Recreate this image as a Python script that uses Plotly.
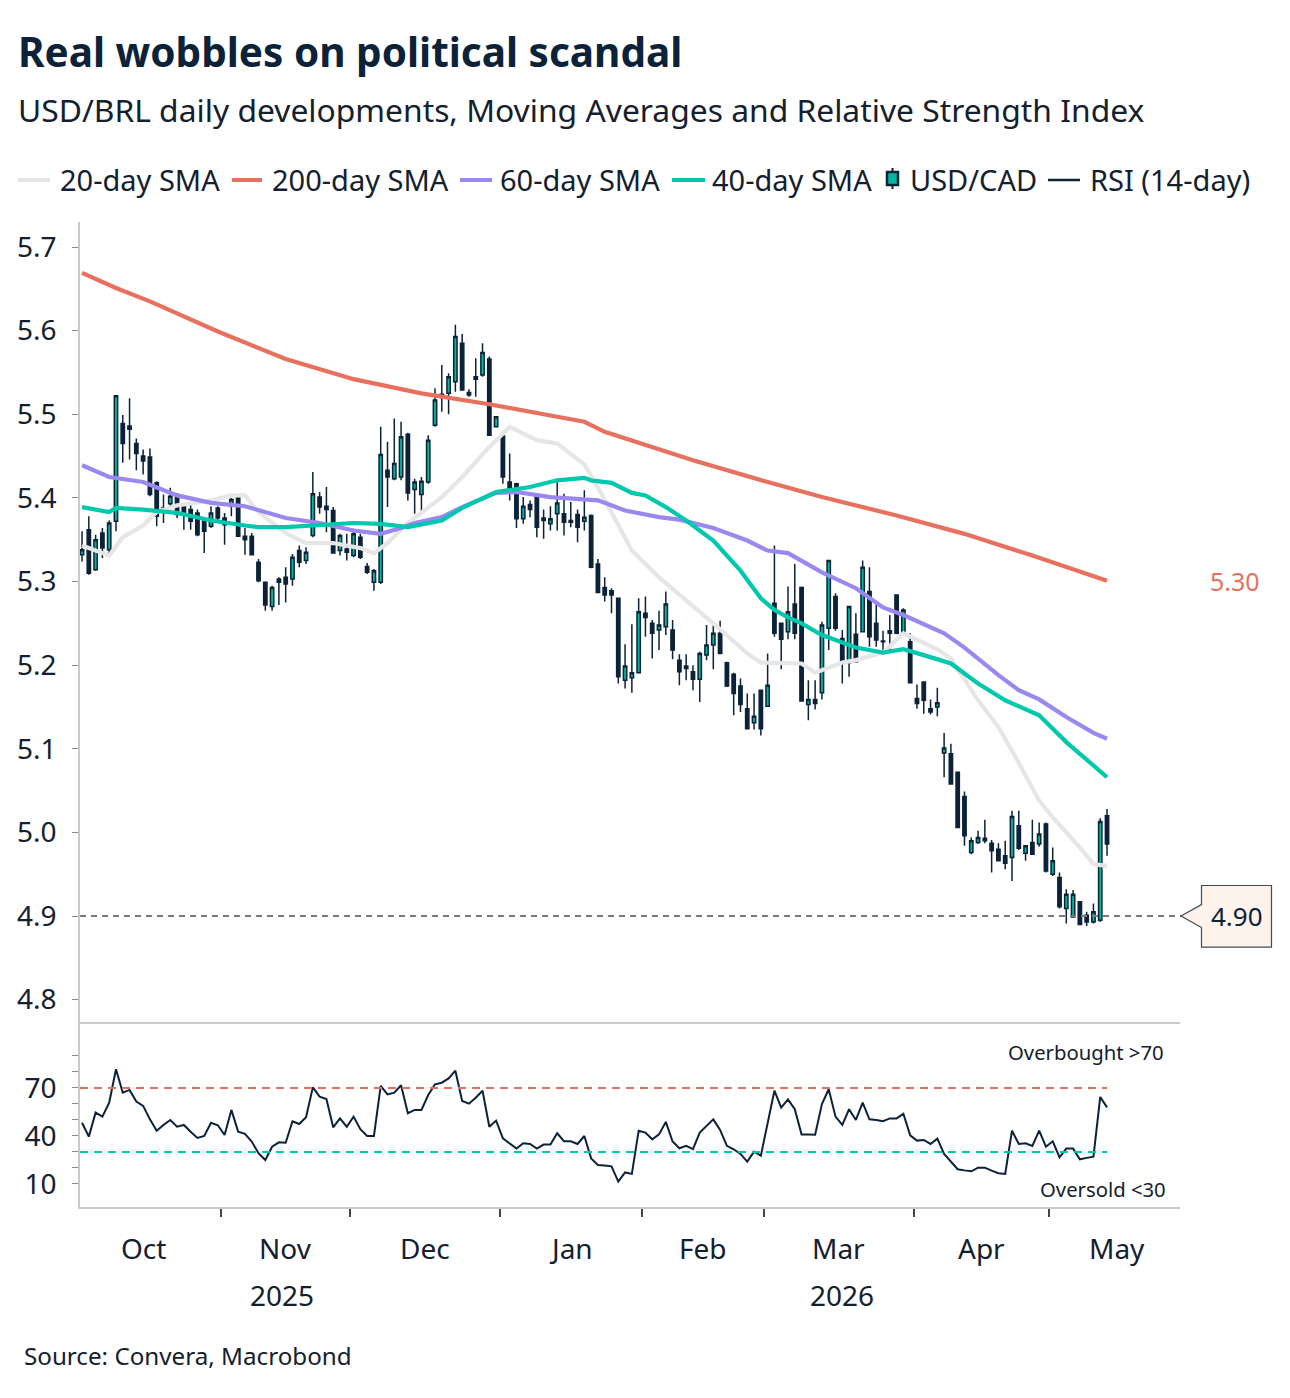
import plotly.graph_objects as go
import pandas as pd

# ---------------- data ----------------
holidays = ["2025-11-20", "2025-12-25", "2026-01-01", "2026-02-16", "2026-02-17",
            "2026-04-03", "2026-04-21", "2026-05-01"]
dates = pd.bdate_range("2025-10-03", "2026-05-14", freq="C", holidays=holidays)

opens = [5.332,5.362,5.314,5.358,5.338,5.372,5.489,5.486,5.465,5.450,
         5.449,5.418,5.384,5.393,5.404,5.390,5.386,5.382,5.372,5.366,
         5.388,5.376,5.390,5.400,5.354,5.354,5.323,5.299,5.270,5.303,
         5.305,5.303,5.337,5.325,5.355,5.401,5.390,5.385,5.337,5.339,
         5.331,5.353,5.318,5.299,5.299,5.433,5.423,5.425,5.476,5.410,
         5.404,5.419,5.487,5.524,5.525,5.539,5.585,5.526,5.545,5.547,
         5.566,5.485,5.474,5.419,5.417,5.375,5.392,5.403,5.376,5.369,
         5.381,5.381,5.373,5.380,5.372,5.379,5.321,5.293,5.289,5.280,
         5.182,5.185,5.191,5.262,5.250,5.242,5.246,5.242,5.206,5.199,
         5.192,5.183,5.212,5.224,5.238,5.203,5.189,5.175,5.148,5.131,
         5.170,5.151,5.274,5.250,5.240,5.273,5.293,5.153,5.159,5.167,
         5.244,5.282,5.232,5.203,5.237,5.240,5.288,5.250,5.229,5.241,
         5.284,5.238,5.228,5.160,5.180,5.148,5.150,5.095,5.094,5.072,
         5.043,4.976,4.988,4.990,4.987,4.980,4.972,4.970,5.008,4.975,
         4.988,4.986,5.010,4.950,4.946,4.909,4.899,4.917,4.901,4.893,
         4.895,5.020]
highs = [5.360,5.378,5.356,5.364,5.373,5.522,5.499,5.519,5.471,5.458,
         5.459,5.420,5.404,5.412,5.406,5.392,5.392,5.386,5.376,5.390,
         5.390,5.382,5.400,5.402,5.364,5.358,5.327,5.300,5.295,5.305,
         5.317,5.333,5.343,5.341,5.431,5.407,5.413,5.389,5.357,5.357,
         5.363,5.357,5.322,5.315,5.485,5.467,5.495,5.491,5.478,5.423,
         5.425,5.475,5.531,5.559,5.549,5.607,5.596,5.530,5.567,5.585,
         5.569,5.497,5.474,5.453,5.418,5.401,5.397,5.404,5.386,5.390,
         5.423,5.405,5.395,5.386,5.409,5.380,5.327,5.305,5.292,5.281,
         5.225,5.249,5.280,5.282,5.254,5.265,5.288,5.254,5.213,5.213,
         5.200,5.216,5.248,5.250,5.253,5.204,5.191,5.184,5.166,5.166,
         5.171,5.214,5.343,5.251,5.294,5.321,5.294,5.182,5.182,5.252,
         5.326,5.286,5.242,5.271,5.262,5.325,5.317,5.274,5.241,5.260,
         5.284,5.268,5.238,5.177,5.180,5.159,5.173,5.119,5.106,5.072,
         5.049,4.994,5.002,5.015,4.991,4.987,4.990,5.026,5.026,4.985,
         5.015,5.012,5.012,4.982,4.952,4.932,4.931,4.918,4.905,4.915,
         5.017,5.028]
lows = [5.324,5.308,5.313,5.328,5.332,5.360,5.442,5.446,5.433,5.428,
        5.402,5.366,5.370,5.386,5.376,5.362,5.362,5.354,5.334,5.364,
        5.372,5.344,5.378,5.354,5.332,5.332,5.299,5.265,5.265,5.272,
        5.275,5.295,5.317,5.321,5.353,5.381,5.359,5.334,5.331,5.325,
        5.329,5.327,5.309,5.289,5.297,5.389,5.421,5.421,5.397,5.381,
        5.383,5.417,5.485,5.503,5.500,5.527,5.528,5.521,5.521,5.545,
        5.474,5.485,5.417,5.397,5.364,5.369,5.377,5.353,5.351,5.361,
        5.361,5.355,5.365,5.347,5.361,5.316,5.287,5.276,5.262,5.178,
        5.172,5.167,5.190,5.234,5.208,5.218,5.236,5.207,5.176,5.182,
        5.170,5.156,5.206,5.195,5.213,5.174,5.140,5.144,5.123,5.123,
        5.116,5.150,5.234,5.195,5.231,5.231,5.157,5.134,5.147,5.159,
        5.218,5.241,5.178,5.186,5.203,5.239,5.222,5.222,5.212,5.218,
        5.237,5.237,5.178,5.148,5.142,5.141,5.139,5.066,5.058,5.006,
        4.984,4.974,4.986,4.987,4.952,4.966,4.956,4.942,4.979,4.966,
        4.974,4.983,4.952,4.948,4.909,4.891,4.898,4.889,4.888,4.891,
        4.893,4.972]
closes = [5.338,5.310,5.350,5.340,5.370,5.522,5.465,5.482,5.453,5.444,
          5.404,5.378,5.388,5.402,5.380,5.382,5.372,5.356,5.360,5.382,
          5.376,5.368,5.398,5.354,5.350,5.332,5.301,5.272,5.293,5.299,
          5.297,5.329,5.323,5.335,5.405,5.389,5.386,5.334,5.355,5.335,
          5.357,5.329,5.311,5.313,5.452,5.425,5.441,5.473,5.406,5.419,
          5.420,5.469,5.517,5.522,5.545,5.593,5.529,5.523,5.542,5.574,
          5.475,5.497,5.425,5.409,5.375,5.390,5.386,5.365,5.373,5.375,
          5.394,5.371,5.371,5.365,5.377,5.317,5.287,5.284,5.284,5.186,
          5.199,5.191,5.264,5.257,5.238,5.248,5.273,5.218,5.192,5.196,
          5.183,5.214,5.224,5.238,5.214,5.175,5.166,5.153,5.124,5.139,
          5.124,5.176,5.238,5.231,5.264,5.238,5.157,5.159,5.154,5.248,
          5.325,5.244,5.203,5.270,5.204,5.317,5.234,5.230,5.228,5.238,
          5.238,5.266,5.179,5.154,5.158,5.144,5.155,5.101,5.058,5.006,
          4.996,4.990,4.994,4.993,4.978,4.966,4.963,5.019,4.981,4.984,
          4.974,4.998,4.954,4.966,4.911,4.926,4.926,4.890,4.893,4.905,
          5.013,4.986]

rsi = [48.3,39.6,54.6,52.1,60.8,81.7,67.1,68.8,61.5,58.8,
       50.4,43.3,46.9,50.0,45.8,46.9,42.7,38.8,40.0,48.3,
       46.7,40.6,56.3,42.7,41.3,36.5,29.2,25.0,33.3,36.0,
       35.8,49.2,47.5,51.7,70.4,64.6,63.1,45.4,51.0,45.8,
       52.1,44.2,40.0,40.0,71.3,66.0,67.1,71.7,54.2,56.3,
       56.3,65.6,72.3,73.3,76.0,80.8,61.9,60.2,63.9,68.3,
       45.8,49.6,38.5,35.4,32.1,35.4,35.0,32.1,34.6,34.6,
       41.7,36.7,36.7,35.0,40.0,26.0,21.9,21.5,21.0,11.5,
       17.2,16.3,43.3,42.1,37.9,41.0,48.8,36.5,32.3,33.8,
       31.7,42.1,46.3,50.4,43.8,33.8,31.7,28.8,24.0,30.2,
       27.7,48.0,68.3,57.7,62.9,56.7,41.0,41.0,40.8,60.0,
       69.2,52.1,46.9,56.7,50.0,60.8,50.4,50.0,49.2,51.0,
       51.0,53.9,40.4,37.1,37.5,35.0,38.3,28.8,23.8,19.2,
       18.5,17.9,20.2,20.2,18.3,16.7,16.3,43.3,35.0,35.4,
       33.8,43.3,33.3,36.7,26.7,32.1,32.1,25.4,26.3,27.1,
       64.4,57.9]

# moving averages (trading-day index, value)
sma200_idx = [0, 5, 10, 15, 20, 30, 40, 50, 60, 70, 74, 77, 83, 90, 101, 109, 120,
              130, 140, 151]
sma200_val = [5.669, 5.651, 5.635, 5.617, 5.599, 5.566, 5.542, 5.525, 5.512, 5.497,
              5.491, 5.479, 5.463, 5.445, 5.419, 5.401, 5.379, 5.357, 5.331, 5.301]
sma60_idx = [0, 4, 9, 14, 19, 24, 30, 35, 40, 44, 47, 49, 53, 56, 61, 64, 69, 76, 80,
             85, 88, 93, 98, 101, 104, 109, 114, 118, 121, 127, 130, 135, 138, 141,
             145, 149, 151]
sma60_val = [5.439, 5.425, 5.419, 5.403, 5.394, 5.390, 5.376, 5.370, 5.361, 5.357, 5.364,
             5.370, 5.377, 5.389, 5.406, 5.407, 5.401, 5.397, 5.385, 5.377, 5.374, 5.364,
             5.349, 5.337, 5.334, 5.311, 5.292, 5.269, 5.260, 5.238, 5.221, 5.188, 5.170,
             5.159, 5.138, 5.119, 5.112]
sma40_idx = [0, 4, 5, 9, 14, 19, 24, 26, 30, 35, 40, 44, 48, 53, 56, 61, 66, 70, 74, 75,
             78, 81, 83, 86, 89, 93, 97, 100, 102, 104, 106, 109, 114, 118, 121, 124,
             128, 132, 136, 141, 145, 151]
sma40_val = [5.389, 5.383, 5.388, 5.386, 5.382, 5.373, 5.367, 5.365, 5.365, 5.367, 5.370,
             5.369, 5.365, 5.373, 5.388, 5.407, 5.413, 5.421, 5.424, 5.421, 5.418, 5.406,
             5.403, 5.389, 5.373, 5.349, 5.313, 5.280, 5.266, 5.257, 5.250, 5.236, 5.221,
             5.215, 5.219, 5.212, 5.202, 5.178, 5.158, 5.140, 5.108, 5.066]
sma20_idx = [0, 4, 6, 9, 11, 14, 19, 22, 24, 26, 30, 33, 37, 41, 43, 45, 48, 53, 56, 60,
             63, 67, 70, 74, 77, 81, 85, 89, 93, 98, 100, 106, 108, 112, 114, 118, 121,
             126, 128, 132, 135, 138, 141, 143, 147, 149, 151]
sma20_val = [5.343, 5.331, 5.353, 5.367, 5.383, 5.391, 5.397, 5.403, 5.403, 5.383, 5.358,
             5.346, 5.346, 5.340, 5.334, 5.346, 5.370, 5.401, 5.425, 5.461, 5.485, 5.469,
             5.465, 5.440, 5.398, 5.337, 5.305, 5.278, 5.250, 5.214, 5.203, 5.202, 5.191,
             5.203, 5.206, 5.215, 5.238, 5.219, 5.208, 5.158, 5.126, 5.083, 5.038, 5.018,
             4.982, 4.962, 4.960]

support_level = 4.90
rsi_overbought = 70
rsi_oversold = 30
month_names = ["Oct", "Nov", "Dec", "Jan", "Feb", "Mar", "Apr", "May"]
main_ticks = [4.8, 4.9, 5.0, 5.1, 5.2, 5.3, 5.4, 5.5, 5.6, 5.7]
rsi_ticks = [10, 40, 70]

# ---------------- helpers ----------------
W, H = 1290, 1398
L, R, T, B = 80, 1180, 222, 1207
x = list(range(len(dates)))

# full trading calendar (for month / year label spans)
cal = pd.bdate_range("2025-10-01", "2026-05-29", freq="C", holidays=holidays)
offset = list(cal).index(dates[0])
pos = {d: i - offset for i, d in enumerate(cal)}

def span(mask):
    p = [pos[d] for d in cal if mask(d)]
    return min(p) - 0.5, max(p) + 0.5

month_keys = []
for d in cal:
    k = (d.year, d.month)
    if k not in month_keys:
        month_keys.append(k)
month_spans = [span(lambda d, k=k: (d.year, d.month) == k) for k in month_keys]
boundaries = [s[0] for s in month_spans[1:]]
year_spans = {yr: span(lambda d, yr=yr: d.year == yr) for yr in (2025, 2026)}

def px(X):
    return (X - L) / (R - L)

def py(Y):
    return (B - Y) / (B - T)

NAVY = "#0b2239"
TEAL_FILL = "#00b8a0"
RED = "#e8705f"
PURPLE = "#9a88f0"
TEAL = "#00c8ad"
GRAY = "#e6e6e6"
TXT = "#14202e"
AX = "#c9c9c9"
FONT = "Noto Sans"

fig = go.Figure()

# moving averages (under candles)
for xi, yv, col in [(sma20_idx, sma20_val, GRAY), (sma200_idx, sma200_val, RED),
                    (sma60_idx, sma60_val, PURPLE), (sma40_idx, sma40_val, TEAL)]:
    fig.add_trace(go.Scatter(x=xi, y=yv, mode="lines", xaxis="x2", yaxis="y2",
                             line=dict(color=col, width=4.2),
                             showlegend=False, hoverinfo="skip"))

fig.add_trace(go.Candlestick(
    x=x, open=opens, high=highs, low=lows, close=closes, xaxis="x2", yaxis="y2",
    increasing=dict(fillcolor=TEAL_FILL, line=dict(color=NAVY, width=1.5)),
    decreasing=dict(fillcolor=NAVY, line=dict(color=NAVY, width=1.5)),
    whiskerwidth=0, showlegend=False))

# RSI panel
fig.add_trace(go.Scatter(x=x, y=rsi, mode="lines", xaxis="x", yaxis="y",
                         line=dict(color=NAVY, width=2), showlegend=False))

shapes = []
shapes.append(dict(type="line", xref="x", yref="y", x0=-0.3, x1=x[-1],
                   y0=rsi_overbought, y1=rsi_overbought,
                   line=dict(color=RED, width=2, dash="8px,6px")))
shapes.append(dict(type="line", xref="x", yref="y", x0=-0.3, x1=x[-1],
                   y0=rsi_oversold, y1=rsi_oversold,
                   line=dict(color=TEAL, width=2, dash="8px,6px")))
# support line
shapes.append(dict(type="line", xref="paper", yref="y2", x0=0, x1=px(1182),
                   y0=support_level, y1=support_level,
                   line=dict(color="#7a7a7a", width=2, dash="6px,5px")))

# callout box for support level
d = 1 / 835.6  # value per pixel on main axis
def vy(dy):
    return support_level - dy * d
path = ("M {0},{1} L {2},{3} L {2},{4} L {5},{4} L {5},{6} L {2},{6} L {2},{7} Z").format(
    px(1181), vy(0), px(1201.5), vy(-11.5), vy(-30.5), px(1271.5), vy(31), vy(11.5))
shapes.append(dict(type="path", xref="paper", yref="y2", path=path,
                   fillcolor="#fdf3ea", line=dict(color="#3f4b57", width=1.2)))

# manual legend
leg_y = py(180)
for x0, x1, col, w in [(18, 50, GRAY, 4), (232, 262, RED, 4), (460, 492, PURPLE, 4),
                       (672, 705, TEAL, 4), (1048, 1080, NAVY, 2.5)]:
    shapes.append(dict(type="line", xref="paper", yref="paper", x0=px(x0), x1=px(x1),
                       y0=leg_y, y1=leg_y, line=dict(color=col, width=w)))
shapes.append(dict(type="line", xref="paper", yref="paper", x0=px(892.5), x1=px(892.5),
                   y0=py(168), y1=py(189), line=dict(color=NAVY, width=2)))
shapes.append(dict(type="rect", xref="paper", yref="paper", x0=px(887), x1=px(898),
                   y0=py(172), y1=py(185), fillcolor=TEAL_FILL,
                   line=dict(color=NAVY, width=2.5)))

ann = []
for X, txt in [(58, "20-day SMA"), (270, "200-day SMA"), (498, "60-day SMA"),
               (710, "40-day SMA"), (908, "USD/CAD"), (1088, "RSI (14-day)")]:
    ann.append(dict(x=px(X), y=leg_y, xref="paper", yref="paper", text=txt,
                    showarrow=False, xanchor="left", yanchor="middle",
                    font=dict(family=FONT, size=29, color=TXT)))

ann.append(dict(x=px(16), y=py(52), xref="paper", yref="paper",
                text="<b>Real wobbles on political scandal</b>", showarrow=False,
                xanchor="left", yanchor="middle",
                font=dict(family=FONT, size=40.5, color=NAVY)))
ann.append(dict(x=px(16), y=py(110), xref="paper", yref="paper",
                text="USD/BRL daily developments, Moving Averages and Relative Strength Index",
                showarrow=False, xanchor="left", yanchor="middle",
                font=dict(family=FONT, size=31.8, color=TXT)))
ann.append(dict(x=px(22), y=py(1355), xref="paper", yref="paper",
                text="Source: Convera, Macrobond", showarrow=False,
                xanchor="left", yanchor="middle",
                font=dict(family=FONT, size=24.2, color=TXT)))

# month and year labels
for name, (a, b) in zip(month_names, month_spans):
    ann.append(dict(x=(a + b) / 2, y=py(1248), xref="x", yref="paper", text=name,
                    showarrow=False, xanchor="center", yanchor="middle",
                    font=dict(family=FONT, size=28, color=TXT)))
for yr, (a, b) in year_spans.items():
    ann.append(dict(x=(a + b) / 2, y=py(1295), xref="x", yref="paper", text=str(yr),
                    showarrow=False, xanchor="center", yanchor="middle",
                    font=dict(family=FONT, size=28, color=TXT)))

# level labels
ann.append(dict(x=px(1235), y=sma200_val[-1], xref="paper", yref="y2",
                text="%.2f" % sma200_val[-1], showarrow=False, xanchor="center",
                yanchor="middle", font=dict(family=FONT, size=25, color=RED)))
ann.append(dict(x=px(1236.5), y=support_level, xref="paper", yref="y2",
                text="%.2f" % support_level, showarrow=False, xanchor="center",
                yanchor="middle", font=dict(family=FONT, size=26, color=NAVY)))
ann.append(dict(x=px(1166), y=92.5, xref="paper", yref="y", text="Overbought >70",
                showarrow=False, xanchor="right", yanchor="middle",
                font=dict(family=FONT, size=20.3, color=TXT)))
ann.append(dict(x=px(1168), y=7, xref="paper", yref="y", text="Oversold <30",
                showarrow=False, xanchor="right", yanchor="middle",
                font=dict(family=FONT, size=20.3, color=TXT)))

split = (B - 1022) / (B - T)
xr = [-0.3, 161.75]

fig.update_layout(
    width=W, height=H, margin=dict(l=L, r=W - R, t=T, b=H - B, pad=0),
    paper_bgcolor="white", plot_bgcolor="white", showlegend=False,
    shapes=shapes, annotations=ann,
    xaxis=dict(domain=[0, 1], anchor="y", range=xr, showgrid=False, zeroline=False,
               showline=True, linecolor=AX, linewidth=1.5,
               tickvals=boundaries, ticktext=[""] * len(boundaries),
               ticks="outside", ticklen=8, tickwidth=1.5, tickcolor="#444",
               rangeslider=dict(visible=False)),
    xaxis2=dict(domain=[0, 1], anchor="y2", matches="x", range=xr, showgrid=False,
                zeroline=False, showline=True, linecolor=AX, linewidth=1.5,
                showticklabels=False, ticks="", rangeslider=dict(visible=False)),
    yaxis=dict(domain=[0, split], anchor="x", range=[-4.4, 111.25], showgrid=False,
               zeroline=False, showline=True, linecolor=AX, linewidth=1.5,
               tickvals=rsi_ticks, ticks="outside", ticklen=6, tickcolor="#888",
               ticklabelstandoff=10,
               minor=dict(tickvals=[10, 20, 30, 40, 50, 60, 70, 80, 90], ticks="outside",
                          ticklen=6, tickcolor="#888"),
               tickfont=dict(family=FONT, size=28, color=TXT)),
    yaxis2=dict(domain=[split, 1], anchor="x2", range=[4.7733, 5.7299], showgrid=False,
                zeroline=False, showline=True, linecolor=AX, linewidth=1.5,
                tickvals=main_ticks, ticktext=["%.1f" % v for v in main_ticks],
                ticks="outside", ticklen=6, tickcolor="#888", ticklabelstandoff=10,
                tickfont=dict(family=FONT, size=28, color=TXT)),
)

fig.write_html("out.html")
